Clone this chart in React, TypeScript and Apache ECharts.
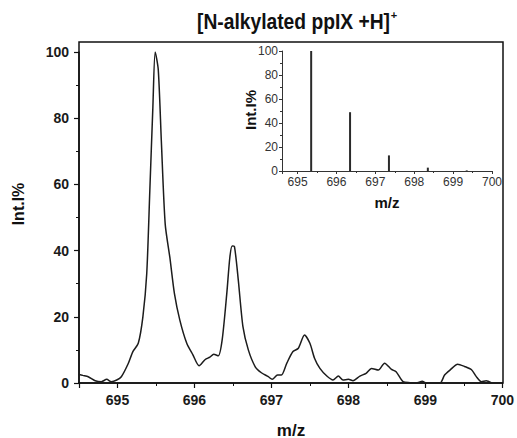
import React, { useEffect, useRef } from 'react';
import * as echarts from 'echarts';

// Main profile spectrum (m/z, relative intensity %)
const mzValues = [
  694.50, 694.55, 694.62, 694.71, 694.79, 694.86, 694.92, 694.99, 695.05, 695.14,
  695.20, 695.27, 695.33, 695.38, 695.42, 695.46, 695.49, 695.53, 695.57, 695.62,
  695.68, 695.74, 695.81, 695.90, 695.98, 696.06, 696.14, 696.20, 696.25, 696.31,
  696.36, 696.42, 696.46, 696.49, 696.52, 696.57, 696.63, 696.70, 696.79, 696.87,
  696.96, 697.01, 697.08, 697.13, 697.20, 697.28, 697.35, 697.43, 697.50, 697.56,
  697.63, 697.72, 697.80, 697.87, 697.93, 698.00, 698.06, 698.15, 698.23, 698.30,
  698.39, 698.47, 698.56, 698.62, 698.71, 698.80, 698.88, 698.96, 699.01, 699.19,
  699.25, 699.32, 699.42, 699.51, 699.60, 699.66, 699.73, 699.79, 699.86,
];
const intensityValues = [
  2.6, 2.3, 1.9, 0.7, 0.4, 1.1, 0.4, 0.9, 1.9, 5.9,
  9.5, 12.0, 20.0, 33.0, 58.0, 83.5, 100.0, 94.6, 73.0, 48.0,
  38.0, 27.0, 19.0, 12.0, 8.5, 5.2, 7.1, 7.8, 8.7, 8.2,
  13.0, 27.0, 38.0, 41.4, 41.2, 31.0, 17.0, 10.0, 4.9, 3.1,
  1.9, 1.1, 2.4, 2.4, 6.0, 9.5, 10.5, 14.5, 12.0, 7.5,
  4.4, 2.1, 0.9, 2.1, 0.9, 1.1, 0.7, 2.1, 2.9, 4.4,
  3.9, 6.0, 4.1, 3.4, 0.4, 0.1, 0.0, 0.5, 0.0, 0.0,
  2.4, 3.9, 5.7, 5.0, 4.0, 2.0, 0.4, 0.7, 0.0,
];

// Inset: theoretical isotope pattern (sticks)
const insetMz = [695.35, 696.35, 697.35, 698.35, 699.35];
const insetIntensity = [100, 49, 13, 2.8, 0.5];

const titleText = '[N-alkylated ppIX +H]';
const yTitle = 'Int.I%';
const xTitle = 'm/z';

const FONT = '"Liberation Sans", Arial, sans-serif';

export default function App() {
  const ref = useRef<HTMLDivElement>(null);
  useEffect(() => {
    if (!ref.current) return;
    document.body.style.margin = '0';
    const chart = echarts.init(ref.current, undefined, { renderer: 'svg' });
    const mainData = mzValues.map((m, i) => [m, intensityValues[i]]);
    const insetData = insetMz.map((m, i) => [m, insetIntensity[i]]);
    const intLabel = (v: number) => (Math.abs(v - Math.round(v)) < 1e-6 ? String(Math.round(v)) : '');
    const tenLabel = (v: number) => (v % 20 === 0 ? String(v) : '');

    chart.setOption({
      animation: false,
      backgroundColor: '#fff',
      grid: [
        { left: 79, top: 52, right: 14, bottom: 55 },
        { left: 282, top: 51, width: 210, height: 120 },
      ],
      xAxis: [
        {
          type: 'value', gridIndex: 0, min: 694.5, max: 700, minInterval: 1, maxInterval: 1,
          axisLine: { lineStyle: { color: '#111', width: 1.5 } },
          axisTick: { inside: false, length: 5, lineStyle: { color: '#111', width: 1.2 } },
          minorTick: { show: true, splitNumber: 2, length: 3, lineStyle: { color: '#111', width: 1 } },
          axisLabel: { formatter: intLabel, fontSize: 14, fontWeight: 'bold', color: '#1a1a1a', margin: 10, fontFamily: FONT, showMinLabel: false },
          splitLine: { show: false },
        },
        {
          type: 'value', gridIndex: 1, min: 694.6, max: 700, minInterval: 1, maxInterval: 1,
          axisLine: { lineStyle: { color: '#333', width: 1 } },
          axisTick: { inside: false, length: 3, lineStyle: { color: '#333' } },
          minorTick: { show: true, splitNumber: 2, length: 2, lineStyle: { color: '#333' } },
          axisLabel: { formatter: intLabel, fontSize: 12, color: '#333', margin: 5, fontFamily: FONT, showMinLabel: false },
          splitLine: { show: false },
        },
      ],
      yAxis: [
        {
          type: 'value', gridIndex: 0, min: 0, max: 100, interval: 20,
          axisLine: { show: true, lineStyle: { color: '#111', width: 1.5 } },
          axisTick: { show: true, inside: false, length: 5, lineStyle: { color: '#111', width: 1.2 } },
          minorTick: { show: true, splitNumber: 2, length: 3, lineStyle: { color: '#111', width: 1 } },
          axisLabel: { formatter: tenLabel, fontSize: 14, fontWeight: 'bold', color: '#1a1a1a', margin: 10, fontFamily: FONT },
          splitLine: { show: false },
        },
        {
          type: 'value', gridIndex: 1, min: 0, max: 100, interval: 20,
          axisLine: { show: true, lineStyle: { color: '#333', width: 1 } },
          axisTick: { show: true, inside: false, length: 3, lineStyle: { color: '#333' } },
          minorTick: { show: true, splitNumber: 2, length: 2, lineStyle: { color: '#333' } },
          axisLabel: { formatter: tenLabel, fontSize: 12, color: '#333', margin: 4, fontFamily: FONT },
          splitLine: { show: false },
        },
      ],
      series: [
        {
          type: 'line', xAxisIndex: 0, yAxisIndex: 0, data: mainData,
          showSymbol: false, smooth: 0.25, clip: true,
          lineStyle: { color: '#1c1c1c', width: 1.5 },
        },
        {
          type: 'bar', xAxisIndex: 1, yAxisIndex: 1, data: insetData,
          barWidth: 2, itemStyle: { color: '#2a2a2a' },
        },
      ],
      graphic: [
        {
          type: 'rect', silent: true, z: 0,
          shape: { x: 79, y: 42, width: 424, height: 341 },
          style: { fill: 'none', stroke: '#111', lineWidth: 1.5 },
        },
        {
          type: 'text', x: 197, y: 21, scaleX: 0.875,
          style: { text: titleText, font: `bold 22px ${FONT}`, fill: '#111', textAlign: 'left', textVerticalAlign: 'middle' },
        },
        {
          type: 'text', x: 394, y: 15,
          style: { text: '+', font: `bold 11px ${FONT}`, fill: '#111', textAlign: 'center', textVerticalAlign: 'middle' },
        },
        {
          type: 'text', x: 18, y: 204, rotation: Math.PI / 2,
          style: { text: yTitle, font: `bold 16px ${FONT}`, fill: '#111', textAlign: 'center', textVerticalAlign: 'middle' },
        },
        {
          type: 'text', x: 291, y: 430,
          style: { text: xTitle, font: `bold 17px ${FONT}`, fill: '#111', textAlign: 'center', textVerticalAlign: 'middle' },
        },
        {
          type: 'text', x: 250, y: 110, rotation: Math.PI / 2,
          style: { text: yTitle, font: `bold 15px ${FONT}`, fill: '#111', textAlign: 'center', textVerticalAlign: 'middle' },
        },
        {
          type: 'text', x: 387, y: 202,
          style: { text: xTitle, font: `bold 15px ${FONT}`, fill: '#111', textAlign: 'center', textVerticalAlign: 'middle' },
        },
      ],
    });
    return () => chart.dispose();
  }, []);
  return <div ref={ref} style={{ width: 517, height: 438 }} />;
}
